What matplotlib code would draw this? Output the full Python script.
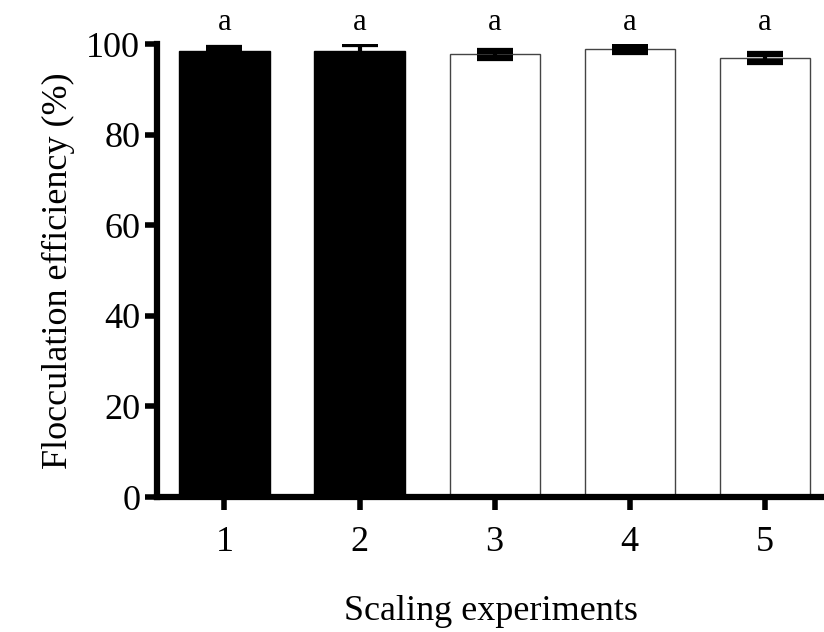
import matplotlib
matplotlib.use("Agg")
import matplotlib.pyplot as plt

experiments = [1, 2, 3, 4, 5]
efficiency = [98.4, 98.5, 97.8, 99.0, 97.0]
errors = [0.7, 1.6, 0.8, 0.7, 0.95]
bar_colors = ["black", "black", "white", "white", "white"]
letters = ["a", "a", "a", "a", "a"]

plt.rcParams["font.family"] = ["Liberation Serif", "DejaVu Serif"]

fig = plt.figure(figsize=(8.24, 6.32), dpi=100)
ax = fig.add_axes([0.1905, 0.2136, 0.8095, 0.7164])

ax.bar(experiments, efficiency, width=0.667, color=bar_colors,
       edgecolor=["black", "black", "#444444", "#444444", "#444444"],
       linewidth=1.0, zorder=2)
ax.errorbar(experiments, efficiency, yerr=errors, fmt="none", ecolor="black",
            elinewidth=3, capsize=13, capthick=4.5, zorder=3)

# significance letters above the bars
for x, t in zip(experiments, letters):
    ax.text(x, 103.1, t, ha="center", va="baseline", fontsize=22,
            clip_on=False)

ax.set_xlim(0.5, 5.44)
ax.set_ylim(0, 100)
ax.set_yticks([0, 20, 40, 60, 80, 100])
ax.set_xticks(experiments)

for side in ["top", "right"]:
    ax.spines[side].set_visible(False)
for side in ["left", "bottom"]:
    ax.spines[side].set_linewidth(4.5)
ax.tick_params(width=4, length=9, labelsize=26, pad=3)
ax.tick_params(axis="x", pad=12)

ax.set_ylabel("Flocculation efficiency (%)", fontsize=26, labelpad=8)
ax.set_xlabel("Scaling experiments", fontsize=26, labelpad=26)

fig.savefig("out.png", dpi=100)
